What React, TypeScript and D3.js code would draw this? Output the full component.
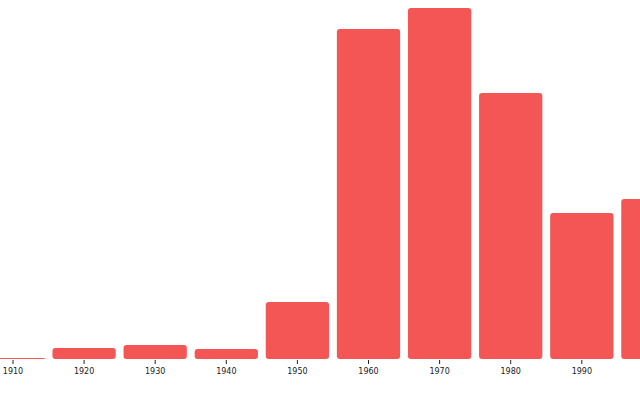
import React from "react";
import * as d3 from "d3";

const decades = ["1910", "1920", "1930", "1940", "1950", "1960", "1970", "1980", "1990", "2000"];
const counts = [1, 11, 14, 10, 57, 330, 351, 266, 146, 160];

const W = 640;
const H = 400;

export default function App() {
  const step = 71.1;
  const x = d3
    .scaleBand<string>()
    .domain(decades)
    .range([13 - step / 2, 13 - step / 2 + step * decades.length])
    .paddingInner(0.11)
    .paddingOuter(0.055);
  const y = d3.scaleLinear().domain([0, 351]).range([359, 8]);
  const bw = x.bandwidth();
  return (
    <svg width={W} height={H} style={{ position: "absolute", left: 0, top: 0 }}>
      {decades.map((d, i) => {
        const x0 = x(d)!;
        const y0 = y(counts[i]);
        const h = y(0) - y0;
        return (
          <rect key={d} x={x0} y={y0} width={bw} height={Math.max(h, 1)} rx={Math.min(3, h / 2)} fill="#f45555" />
        );
      })}
      {decades
        .filter((d) => x(d)! + bw / 2 < W)
        .map((d) => {
          const cx = x(d)! + bw / 2;
          return (
            <g key={"t" + d} transform={`translate(${cx},${y(0)})`}>
              <line y1={1} y2={5} stroke="#222" strokeWidth={1} />
              <text y={15} textAnchor="middle" fontFamily="DejaVu Sans" fontSize={8} fill="#222">
                {d}
              </text>
            </g>
          );
        })}
    </svg>
  );
}
